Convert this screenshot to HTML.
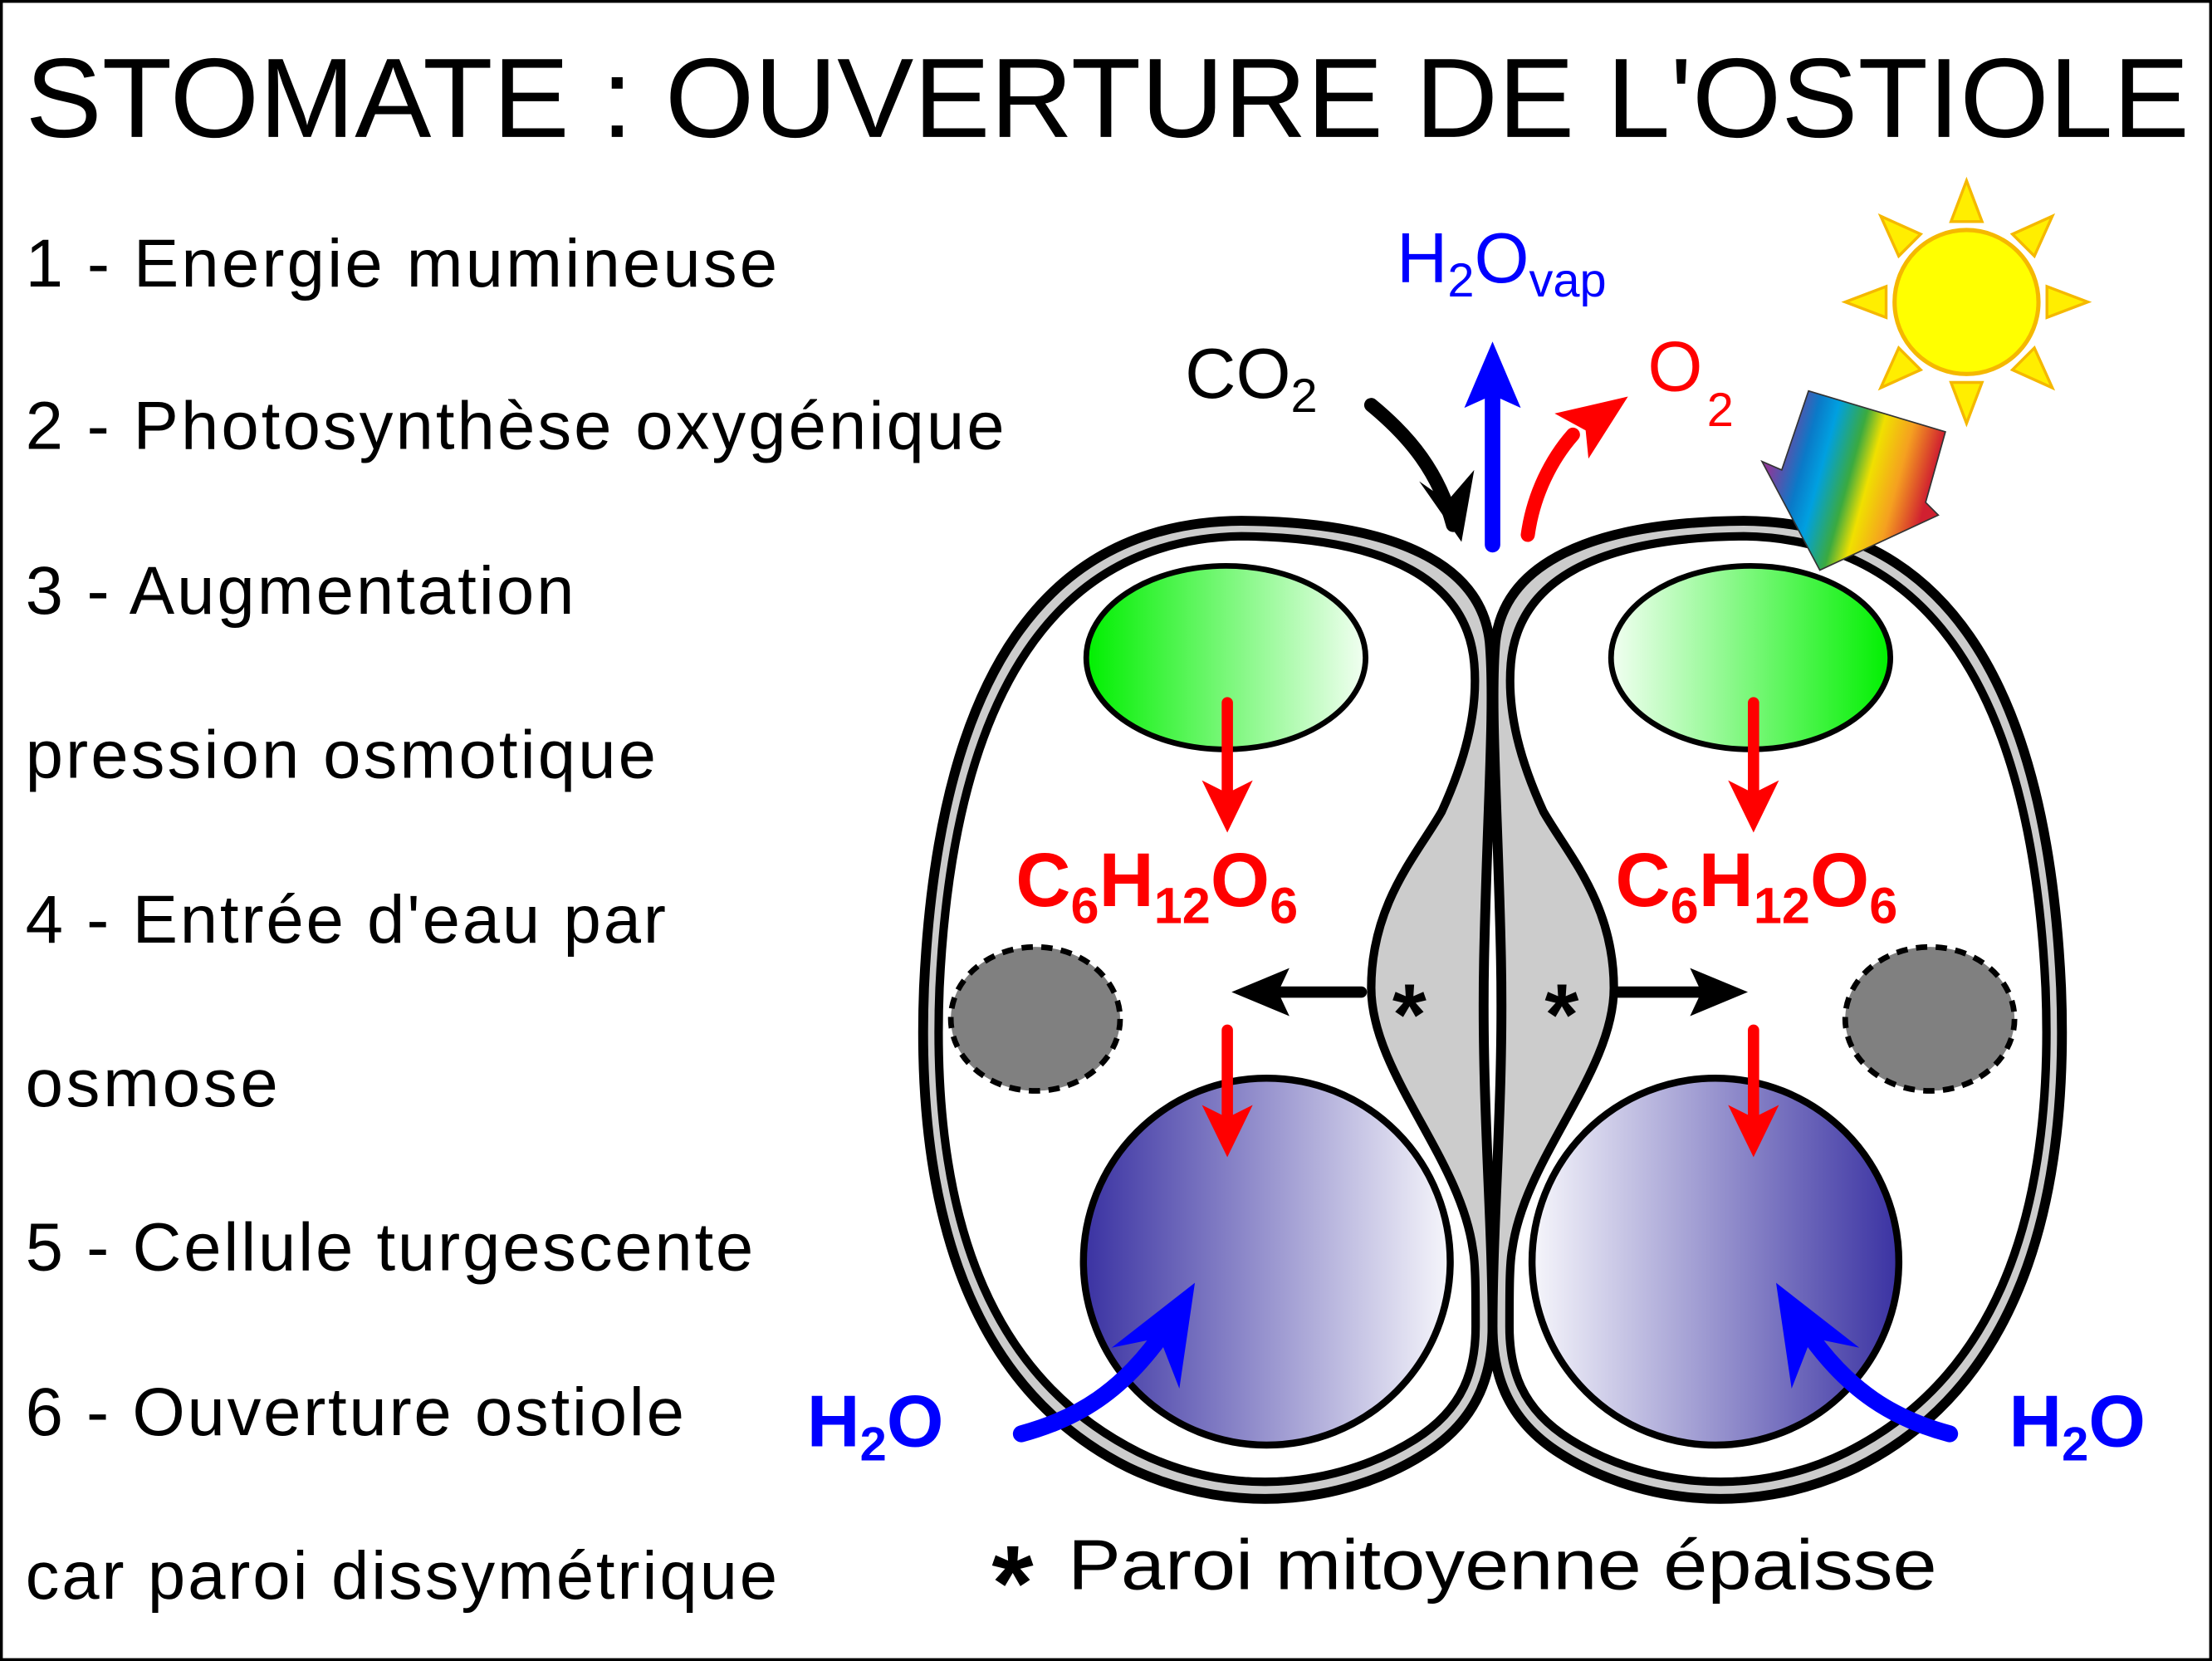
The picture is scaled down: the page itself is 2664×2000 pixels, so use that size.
<!DOCTYPE html>
<html><head><meta charset="utf-8"><style>
html,body{margin:0;padding:0;background:#fff}
svg{display:block}
text{font-family:"Liberation Sans",Arial,sans-serif}
</style></head><body>
<svg width="2664" height="2000" viewBox="0 0 1568 1177" preserveAspectRatio="none" xmlns="http://www.w3.org/2000/svg">
<defs>
<linearGradient id="gL" x1="0" x2="1"><stop offset="0" stop-color="#00f000"/><stop offset="1" stop-color="#f2fff2"/></linearGradient>
<linearGradient id="gR" x1="0" x2="1"><stop offset="0" stop-color="#f2fff2"/><stop offset="1" stop-color="#00f000"/></linearGradient>
<linearGradient id="bL" x1="0" x2="1"><stop offset="0" stop-color="#3a32a2"/><stop offset="1" stop-color="#f6f6fb"/></linearGradient>
<linearGradient id="bR" x1="0" x2="1"><stop offset="0" stop-color="#f6f6fb"/><stop offset="1" stop-color="#3a32a2"/></linearGradient>
<linearGradient id="rb" gradientUnits="userSpaceOnUse" x1="1262" y1="300" x2="1372" y2="330"><stop offset="0" stop-color="#8a3a9a"/><stop offset=".2" stop-color="#0a7ac8"/><stop offset=".32" stop-color="#00a0e0"/><stop offset=".5" stop-color="#3aaa40"/><stop offset=".62" stop-color="#f0e000"/><stop offset=".8" stop-color="#f5a020"/><stop offset="1" stop-color="#d02030"/></linearGradient>
<g id="cell">
<path d="M1056,455 C1050,400 990,370 880,369 C740,370 665,480 655,700 C648,880 700,990 800,1040 C880,1078 960,1062 1010,1030 C1050,1005 1058,970 1058,940 C1058,860 1050,780 1052,680 C1054,580 1060,500 1056,455 Z" fill="#ccc" stroke="#000" stroke-width="7" stroke-linejoin="round"/>
<path d="M1045,470 C1040,412 985,381 880,380 C750,382 676,488 666,700 C659,875 709,980 807,1029 C880,1065 955,1050 1003,1020 C1038,998 1046,970 1046,940 C1046,915 1046,895 1044,885 C1035,820 972,760 972,700 C972,640 1005,605 1022,575 C1038,540 1048,505 1045,470 Z" fill="#fff" stroke="#000" stroke-width="6"/>
</g>
</defs>
<rect x="1" y="1" width="1566" height="1175" fill="#fff" stroke="#000" stroke-width="2"/>
<text x="18" y="97" font-size="80" textLength="1534" lengthAdjust="spacingAndGlyphs">STOMATE : OUVERTURE DE L'OSTIOLE</text>
<g font-size="48" lengthAdjust="spacingAndGlyphs">
<text x="18" y="203" textLength="533">1 - Energie mumineuse</text>
<text x="18" y="318" textLength="694">2 - Photosynthèse oxygénique</text>
<text x="18" y="435" textLength="389">3 - Augmentation</text>
<text x="18" y="551" textLength="447">pression osmotique</text>
<text x="18" y="668" textLength="454">4 - Entrée d'eau par</text>
<text x="18" y="784" textLength="179">osmose</text>
<text x="18" y="900" textLength="516">5 - Cellule turgescente</text>
<text x="18" y="1017" textLength="467">6 - Ouverture ostiole</text>
<text x="18" y="1133" textLength="533">car paroi dissymétrique</text>
</g>
<use href="#cell"/>
<use href="#cell" transform="translate(2116,0) scale(-1,1)"/>
<ellipse cx="869" cy="466" rx="99" ry="65" fill="url(#gL)" stroke="#000" stroke-width="4"/>
<ellipse cx="1241" cy="466" rx="99" ry="65" fill="url(#gR)" stroke="#000" stroke-width="4"/>
<ellipse cx="734" cy="722" rx="60" ry="51" fill="#808080" stroke="#000" stroke-width="4" stroke-dasharray="8,6"/>
<ellipse cx="1368" cy="722" rx="60" ry="51" fill="#808080" stroke="#000" stroke-width="4" stroke-dasharray="8,6"/>
<circle cx="898" cy="894" r="130" fill="url(#bL)" stroke="#000" stroke-width="5"/>
<circle cx="1216" cy="894" r="130" fill="url(#bR)" stroke="#000" stroke-width="5"/>
<g id="redarr">
<line x1="870" y1="498" x2="870" y2="560" stroke="red" stroke-width="8" stroke-linecap="round"/>
<polygon points="870,590 852,553 870,562 888,553" fill="red"/>
<line x1="870" y1="730" x2="870" y2="790" stroke="red" stroke-width="8" stroke-linecap="round"/>
<polygon points="870,820 852,783 870,792 888,783" fill="red"/>
</g>
<use href="#redarr" transform="translate(373,0)"/>
<g fill="red" font-weight="bold" font-size="54">
<text x="720" y="642">C<tspan font-size="36" dy="12">6</tspan><tspan dy="-12">H</tspan><tspan font-size="36" dy="12">12</tspan><tspan dy="-12">O</tspan><tspan font-size="36" dy="12">6</tspan></text>
<text x="1145" y="642">C<tspan font-size="36" dy="12">6</tspan><tspan dy="-12">H</tspan><tspan font-size="36" dy="12">12</tspan><tspan dy="-12">O</tspan><tspan font-size="36" dy="12">6</tspan></text>
</g>
<line x1="965" y1="703" x2="905" y2="703" stroke="#000" stroke-width="8" stroke-linecap="round"/>
<polygon points="873,703 914,686 906,703 914,720"/>
<line x1="1147" y1="703" x2="1207" y2="703" stroke="#000" stroke-width="8" stroke-linecap="round"/>
<polygon points="1239,703 1198,686 1206,703 1198,720"/>
<text x="987" y="740" font-size="62" font-weight="bold">*</text>
<text x="1095" y="740" font-size="62" font-weight="bold">*</text>
<line x1="1058" y1="386" x2="1058" y2="280" stroke="#00f" stroke-width="11" stroke-linecap="round"/>
<polygon points="1058,242 1078,289 1058,280 1038,289" fill="#00f"/>
<path d="M972,287 C1000,310 1020,335 1030,372" fill="none" stroke="#000" stroke-width="10" stroke-linecap="round"/>
<polygon points="1036,384 1006,341 1026,355 1045,333"/>
<path d="M1083,379 C1087,350 1100,325 1115,308" fill="none" stroke="red" stroke-width="10" stroke-linecap="round"/>
<polygon points="1154,281 1126,325 1124,305 1102,293" fill="red"/>
<text x="840" y="282" font-size="50">CO<tspan font-size="34" dy="10">2</tspan></text>
<text x="990" y="200" font-size="50" fill="#00f">H<tspan font-size="34" dy="10">2</tspan><tspan dy="-10">O</tspan><tspan font-size="34" dy="10">vap</tspan></text>
<text x="1168" y="277" font-size="50" fill="red">O</text>
<text x="1210" y="302" font-size="34" fill="red">2</text>
<g transform="translate(1394,214)" fill="#ffee00" stroke="#f5b800" stroke-width="2">
<g id="ray"><polygon points="-11,-57 11,-57 0,-86"/></g>
<use href="#ray" transform="rotate(45)"/><use href="#ray" transform="rotate(90)"/><use href="#ray" transform="rotate(135)"/>
<use href="#ray" transform="rotate(180)"/><use href="#ray" transform="rotate(225)"/><use href="#ray" transform="rotate(270)"/><use href="#ray" transform="rotate(315)"/>
<circle r="51" fill="#ffff00" stroke-width="3"/>
</g>
<polygon points="1282,277 1379,306 1365,356 1374,365 1290,404 1249,327 1263,333" fill="url(#rb)" stroke="#333" stroke-width="1"/>
<g id="h2oarr">
<path d="M724,1016 C765,1005 795,985 822,948" fill="none" stroke="#00f" stroke-width="12" stroke-linecap="round"/>
<polygon points="847,909 836,984 822,948 788,955" fill="#00f"/>
</g>
<use href="#h2oarr" transform="translate(2106,0) scale(-1,1)"/>
<text x="572" y="1025" font-size="52" font-weight="bold" fill="#00f">H<tspan font-size="34" dy="10">2</tspan><tspan dy="-10">O</tspan></text>
<text x="1424" y="1025" font-size="52" font-weight="bold" fill="#00f">H<tspan font-size="34" dy="10">2</tspan><tspan dy="-10">O</tspan></text>
<text x="703" y="1148" font-size="76" font-weight="bold">*</text>
<text x="757" y="1126" font-size="50" textLength="616" lengthAdjust="spacingAndGlyphs">Paroi mitoyenne épaisse</text>
</svg>
</body></html>
